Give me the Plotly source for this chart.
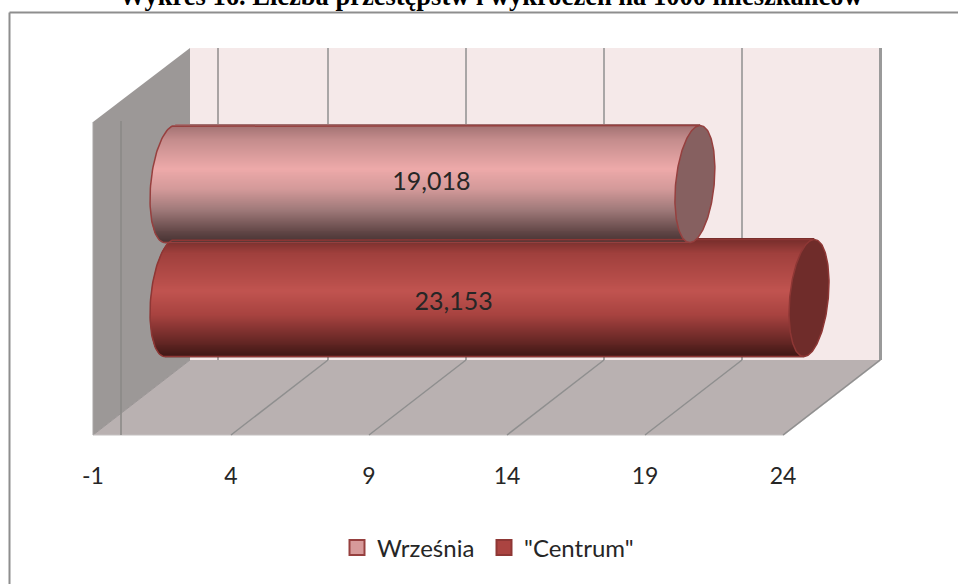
import numpy as np
import plotly.graph_objects as go

# ---- data ----
categories = ["Września", '"Centrum"']
values = [19.018, 23.153]
value_labels = ["19,018", "23,153"]
tick_values = [-1, 4, 9, 14, 19, 24]
tick_labels = ["-1", "4", "9", "14", "19", "24"]
title_text = "Wykres 16. Liczba przestępstw i wykroczeń na 1000 mieszkańców"

# ---- styles / geometry of the pseudo-3D frame (pixels) ----
W, H = 958, 584
PX_PER_UNIT = 27.6
FRONT_X0 = 93        # pixel of x=-1 on the front edge
FRONT_Y = 435
DEPTH_X, DEPTH_Y = 97, 75
BAR_ZERO_X = 170     # pixel of x=0 in the mid-depth plane of cylinders
BAR_Y = 184          # pixel of first cylinder centre
BAR_STEP = 114       # pixels between the cylinders
HALF_T = 58.5 / BAR_STEP
CAP_A = 19.3 / PX_PER_UNIT
CAP_S = 5.2 / PX_PER_UNIT

WALL = "#9c9897"
BACK = "#f5e9e9"
FLOOR = "#b9b1b1"
GRID = "#8f8f8f"
BORDER = "#8e8e8e"
TEXT = "#262626"
OUTLINE = ["#96403f", "#8e3735"]
CAP = ["#866060", "#6f2c2a"]
LEG_FILL = ["#d79a9a", "#ab4441"]
STOPS = [
    [(-1.0, "#a07071"), (-0.75, "#c48c8c"), (-0.25, "#eeaaaa"), (0.1, "#d49a9a"),
     (0.45, "#a07a7a"), (0.8, "#664a4a"), (1.0, "#4a3535")],
    [(-1.0, "#742c2a"), (-0.75, "#a0403d"), (-0.1, "#c15450"), (0.3, "#a84340"),
     (0.7, "#6e2a28"), (1.0, "#421817")],
]


def hex_rgb(c):
    return [int(c[i:i + 2], 16) for i in (1, 3, 5)]


def shade(stops, u):
    pos = [s[0] for s in stops]
    rgb = np.array([hex_rgb(s[1]) for s in stops])
    return "rgb(%d,%d,%d)" % tuple(np.interp(u, pos, rgb[:, k]) for k in range(3))


def px(x):
    return x / W


def py(y):
    return 1 - y / H


def poly(pts, fill):
    d = "M" + " L".join(f"{px(x):.5f},{py(y):.5f}" for x, y in pts) + " Z"
    return dict(type="path", path=d, xref="paper", yref="paper", fillcolor=fill,
                line=dict(width=0), layer="below")


def seg(x0, y0, x1, y1, color=GRID, width=1.5):
    return dict(type="line", xref="paper", yref="paper", x0=px(x0), y0=py(y0), x1=px(x1), y1=py(y1),
                line=dict(color=color, width=width), layer="below")


top_y = FRONT_Y - DEPTH_Y - 312
back_bottom = FRONT_Y - DEPTH_Y
right_back = FRONT_X0 + DEPTH_X + 691
shapes = [
    poly([(FRONT_X0 + DEPTH_X, top_y), (right_back, top_y), (right_back, back_bottom),
          (FRONT_X0 + DEPTH_X, back_bottom)], BACK),
    poly([(FRONT_X0, FRONT_Y), (FRONT_X0 + DEPTH_X, back_bottom), (right_back, back_bottom),
          (right_back - DEPTH_X, FRONT_Y)], FLOOR),
    poly([(FRONT_X0, 122), (FRONT_X0 + DEPTH_X, top_y), (FRONT_X0 + DEPTH_X, back_bottom),
          (FRONT_X0, FRONT_Y)], WALL),
    seg(FRONT_X0, FRONT_Y, FRONT_X0 + DEPTH_X, back_bottom, "#9a9595", 1),
    seg(FRONT_X0, FRONT_Y, right_back - DEPTH_X, FRONT_Y, "#c4c0c0", 1),
    seg(right_back, back_bottom, right_back - DEPTH_X, FRONT_Y, "#c4c0c0", 1),
    seg(FRONT_X0, 122, FRONT_X0, FRONT_Y, "#a8a5a5", 1),
    seg(right_back, top_y, right_back, back_bottom, "#9a9a9a", 2),
    seg(121, 121, 121, FRONT_Y, "#8a8886", 1.5),
    seg(121 + DEPTH_X, top_y, 121 + DEPTH_X, back_bottom, "#8f8b8b", 1.5),
    # chart frame
    seg(9.5, 12.5, W, 12.5, BORDER, 2),
    seg(9.5, 12.5, 9.5, H, BORDER, 2),
]
for v in tick_values[1:]:
    fx = FRONT_X0 + (v + 1) * PX_PER_UNIT
    shapes.append(seg(fx, FRONT_Y, fx + DEPTH_X, back_bottom))
    if v < 24:
        shapes.append(seg(fx + DEPTH_X, top_y, fx + DEPTH_X, back_bottom))
    else:
        shapes.append(seg(fx + DEPTH_X, top_y, fx + DEPTH_X, back_bottom, "#9a9a9a", 2))

fig = go.Figure()

# legend entries, on the front axis
for i, name in enumerate(categories):
    fig.add_trace(go.Scatter(x=[None], y=[None], mode="markers", name=name,
                             marker=dict(symbol="square", size=15, color=LEG_FILL[i],
                                         line=dict(color=OUTLINE[i], width=2)),
                             xaxis="x", yaxis="y", showlegend=True, hoverinfo="skip"))

# cylinders: back to front so that the first category lies over the second
n = 120
offs = np.linspace(-HALF_T, HALF_T, n)
step = offs[1] - offs[0]
t = np.linspace(0, 2 * np.pi, 181)
for i in [1, 0]:
    val = values[i]
    u = offs / HALF_T
    left = -CAP_A * np.sqrt(np.clip(1 - u ** 2, 0, 1)) - CAP_S * u
    right = val - CAP_S * u
    fig.add_trace(go.Bar(orientation="h", y=i + offs, x=right - left, base=left,
                         width=step * 1.4, marker=dict(color=[shade(STOPS[i], a) for a in u], line=dict(width=0)),
                         xaxis="x2", yaxis="y2", showlegend=False, hoverinfo="skip"))
    # silhouette outline
    tl = np.linspace(np.pi / 2, 3 * np.pi / 2, 60)
    ol_x = CAP_A * np.cos(tl) + CAP_S * np.sin(tl)
    ol_y = i - HALF_T * np.sin(tl)
    fig.add_trace(go.Scatter(x=np.r_[val + CAP_S, ol_x, val - CAP_S], y=np.r_[i - HALF_T, ol_y, i + HALF_T],
                             mode="lines", line=dict(color=OUTLINE[i], width=1.5),
                             xaxis="x2", yaxis="y2", showlegend=False, hoverinfo="skip"))
    # end cap at the value
    fig.add_trace(go.Scatter(x=val + CAP_A * np.cos(t) + CAP_S * np.sin(t), y=i - HALF_T * np.sin(t),
                             mode="lines", fill="toself", fillcolor=CAP[i],
                             line=dict(color=OUTLINE[i], width=1.5),
                             xaxis="x2", yaxis="y2", showlegend=False, hoverinfo="skip"))

# value labels
label_dx = [-0.04, -1.30]
label_dy = [0.0, 0.05]
fig.add_trace(go.Scatter(x=[values[k] / 2 + label_dx[k] for k in range(2)], y=[k + label_dy[k] for k in range(2)],
                         mode="text", text=value_labels, textposition="middle center",
                         textfont=dict(family="Lato", size=25, color=TEXT),
                         xaxis="x2", yaxis="y2", showlegend=False, hoverinfo="skip"))

fig.update_layout(
    width=W, height=H, margin=dict(l=0, r=0, t=0, b=0, autoexpand=False),
    paper_bgcolor="white", plot_bgcolor="rgba(0,0,0,0)",
    barmode="overlay", shapes=shapes, showlegend=True,
    xaxis=dict(domain=[FRONT_X0 / W, right_back / W], range=[-1, -1 + (right_back - FRONT_X0) / PX_PER_UNIT],
               tickmode="array", tickvals=tick_values, ticktext=tick_labels, showgrid=False, zeroline=False,
               showline=False, ticks="", ticklabelstandoff=25,
               tickfont=dict(family="Lato", size=23, color=TEXT), anchor="y"),
    yaxis=dict(domain=[(H - FRONT_Y) / H, 1], range=[0, 1], visible=False, anchor="x"),
    xaxis2=dict(domain=[0, 1], range=[-BAR_ZERO_X / PX_PER_UNIT, (W - BAR_ZERO_X) / PX_PER_UNIT],
                visible=False, anchor="y2"),
    yaxis2=dict(domain=[0, 1], range=[(H - BAR_Y) / BAR_STEP, -BAR_Y / BAR_STEP],
                visible=False, anchor="x2"),
    legend=dict(orientation="h", x=342 / W, xanchor="left", y=py(548), yanchor="middle",
                font=dict(family="Lato", size=24, color=TEXT), bgcolor="rgba(0,0,0,0)",
                entrywidth=107, entrywidthmode="pixels", indentation=-5,
                itemclick=False, itemdoubleclick=False),
    annotations=[dict(text="<b>" + title_text + "</b>", xref="paper", yref="paper", x=491 / W, y=1,
                      yanchor="bottom", xanchor="center", yshift=-13, showarrow=False,
                      font=dict(family="Liberation Serif", size=26.5, color="black"))],
)

fig.write_html("out.html", post_script="document.body.style.margin='0';document.body.style.overflow='hidden';",
               config={"displayModeBar": False})
